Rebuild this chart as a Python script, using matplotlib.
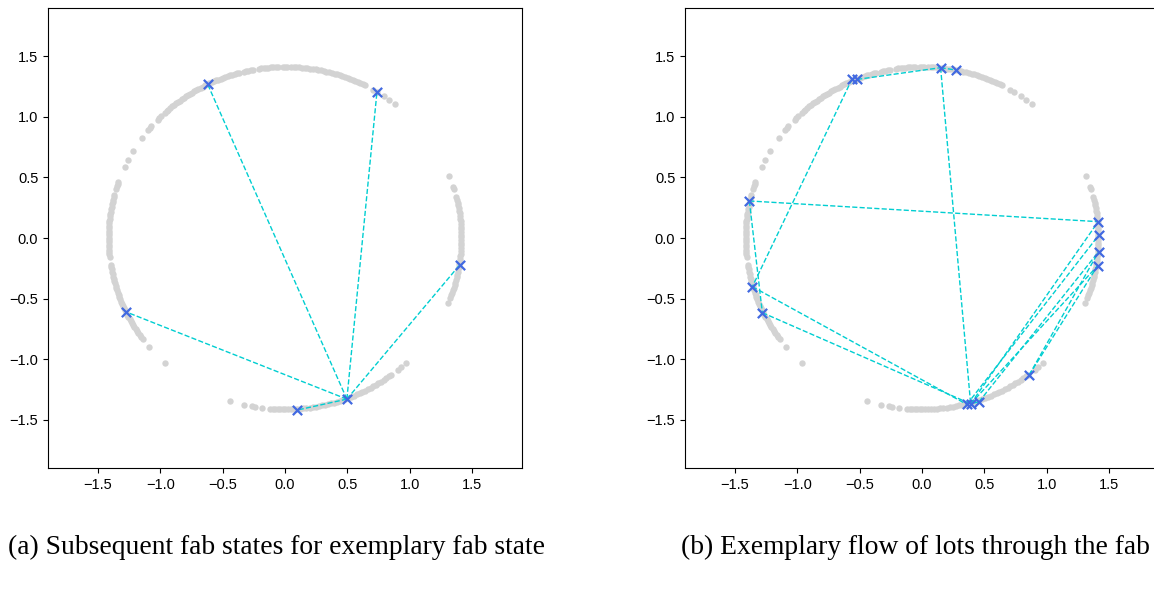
import numpy as np
import matplotlib.pyplot as plt

plt.rcParams['font.family'] = ['Liberation Sans', 'DejaVu Sans']

# all fab states lie on a circle of radius ~sqrt(2); angles (deg)
R = 1.414
state_angles = [
    # top arc
    51.6, 53.9, 55.9, 58.5, 60.0, 63.0, 63.8, 64.7, 65.6, 66.5, 67.4, 68.3, 69.2, 70.1,
    71.0, 71.9, 72.8, 73.7, 74.6, 75.5, 76.4, 77.3, 78.2, 79.1, 80.0, 80.9, 81.8, 82.7,
    83.6, 84.5, 85.6, 86.4, 87.2, 88.0, 89.2, 90.0, 90.8, 92.2, 93.0, 93.8, 94.6, 95.4,
    96.2, 97.0, 97.8, 98.6, 100.4, 101.2, 102.0, 102.8, 103.5, 105.0, 105.8, 106.6,
    107.4, 108.2, 109.0, 109.8, 110.6, 111.4, 112.2, 113.0, 113.8, 114.6, 115.4, 116.2,
    117.0, 117.8, 118.6, 119.4, 120.2, 121.0, 121.8, 122.6, 123.4, 124.2, 125.0, 125.8,
    126.6, 127.4, 128.2, 129.0, 129.8, 130.6, 131.4, 132.2, 133.0, 134.6, 135.4, 136.2,
    139.2, 140.0, 140.8, 144.4, 149.4, 152.8, 155.5, 160.8, 161.6, 162.4, 163.4,
    # left arc
    165.5, 166.3, 167.1, 167.9, 168.7, 169.5, 170.3, 171.1, 171.9, 172.7, 173.5, 174.3,
    175.1, 175.9, 176.7, 177.5, 178.3, 179.1, 179.9, 180.7, 181.5, 182.3, 183.1, 183.9,
    184.7, 185.5, 186.3,
    189.0, 189.8, 190.6, 191.4, 192.2, 193.0, 193.8, 194.6, 195.4, 196.2, 197.0, 197.8,
    198.6, 199.4, 200.2, 201.0, 201.8, 202.6, 203.4, 204.2, 205.0, 205.8, 206.6, 207.4,
    208.2, 209.0, 209.8, 210.6, 211.4, 212.2, 213.0, 213.8, 214.6, 215.4, 216.2,
    219.4, 227.1,
    # bottom arc
    251.9, 256.7, 259.2, 260.3, 262.5, 265.2, 266.0, 266.8, 267.6, 268.4, 269.2,
    270.0, 271.0, 272.0, 273.0, 274.0, 275.0, 276.0, 277.0, 278.0, 279.0, 280.0, 281.0,
    282.0, 283.0, 284.0, 285.0, 286.0, 287.0, 288.0, 289.0, 290.0, 291.0, 292.0, 293.0,
    294.0, 295.0, 296.0, 297.0, 298.0, 299.0, 300.0, 301.0, 302.0, 303.0, 304.0, 305.0,
    306.0, 307.0, 309.8, 311.0, 313.1,
    # right arc
    337.6, 339.5, 340.4, 341.3, 342.2, 343.1, 344.0, 344.9, 345.8, 346.7, 347.6, 348.5,
    349.4, 350.3, 351.2, 352.1, 353.0, 353.9, 354.8, 355.7, 356.6, 357.5, 358.4, 359.3,
    0.2, 1.1, 2.0, 2.9, 3.8, 4.7, 5.6, 6.5, 7.4, 8.3, 9.2, 10.1, 11.0, 11.9, 12.8, 13.8,
    16.7, 17.3, 21.2,
]

# (a) subsequent states of one fab state (index 5 is the start state)
a_x = [-0.620, 0.737, 1.400, -1.278, 0.100, 0.496]
a_y = [1.270, 1.204, -0.223, -0.609, -1.421, -1.331]
a_links = [(5, 0), (5, 1), (5, 2), (5, 3), (5, 4)]

# (b) flow of lots
b_x = [-0.56, -0.52, 0.149, 0.269, -1.384, 1.413, 1.416, 1.416, 1.408, -1.36, -1.28,
       0.859, 0.457, 0.39, 0.36]
b_y = [1.315, 1.31, 1.407, 1.388, 0.306, 0.135, 0.022, -0.113, -0.229, -0.402, -0.617,
       -1.132, -1.353, -1.37, -1.375]
b_links = [(1, 2), (2, 3), (2, 13), (0, 9), (4, 5), (4, 10), (9, 14), (10, 13),
           (13, 5), (14, 6), (12, 7), (13, 8), (11, 8), (11, 7), (12, 13)]

captions = ['(a) Subsequent fab states for exemplary fab state',
            '(b) Exemplary flow of lots through the fab']


def draw(ax, xs, ys, links):
    th = np.deg2rad(state_angles)
    ax.scatter(R * np.cos(th), R * np.sin(th), s=21, color='lightgray',
               linewidths=0, zorder=1)
    for i, j in links:
        ax.plot([xs[i], xs[j]], [ys[i], ys[j]], '--', color='darkturquoise',
                lw=1.0, zorder=2)
    ax.scatter(xs, ys, marker='x', color='royalblue', s=45, linewidths=1.6, zorder=3)
    ax.set_xlim(-1.9, 1.9)
    ax.set_ylim(-1.9, 1.9)
    ax.tick_params(labelsize=10.5)


fig = plt.figure(figsize=(11.54, 5.91), dpi=100)
ax1 = fig.add_axes([48 / 1154, 123 / 591, 474 / 1154, 460 / 591])
ax2 = fig.add_axes([685 / 1154, 123 / 591, 474 / 1154, 460 / 591])
draw(ax1, a_x, a_y, a_links)
draw(ax2, b_x, b_y, b_links)

fig.text(277 / 1154, 0.073, captions[0], ha='center', va='center',
         family='Liberation Serif', fontsize=19.8)
fig.text(915 / 1154, 0.073, captions[1], ha='center', va='center',
         family='Liberation Serif', fontsize=19.8)

fig.savefig('out.png', dpi=100)
